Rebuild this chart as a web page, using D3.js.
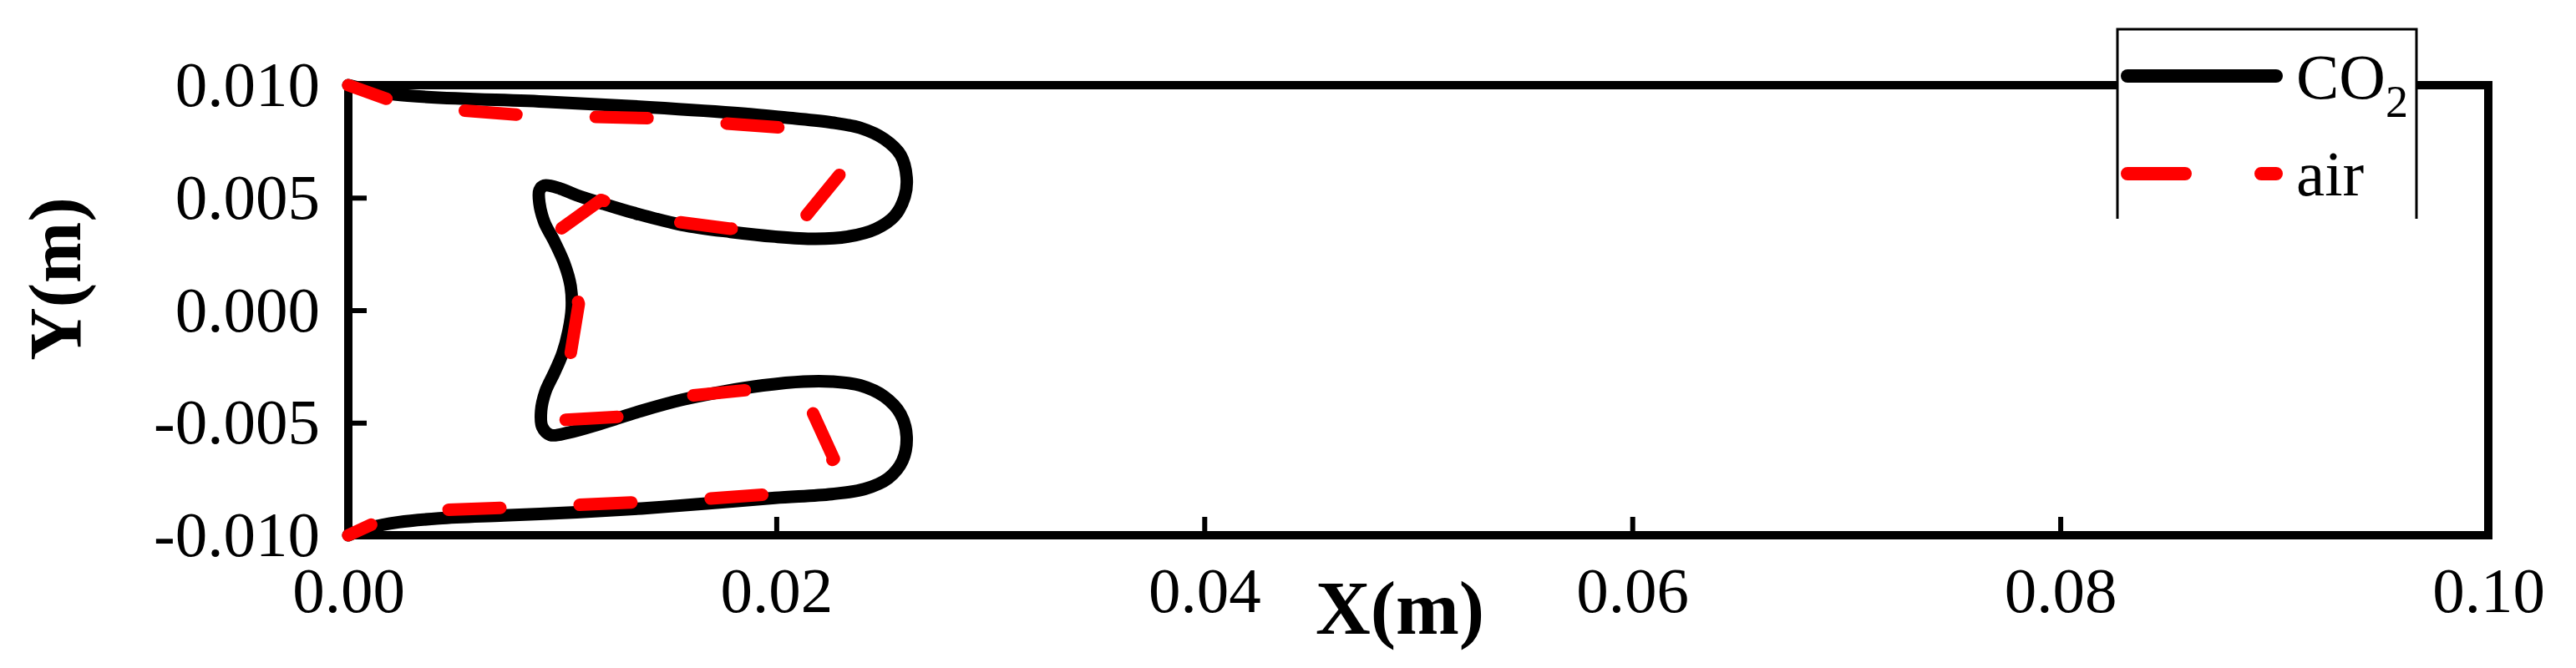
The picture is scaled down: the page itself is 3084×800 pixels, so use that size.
<!DOCTYPE html>
<html>
<head>
<meta charset="utf-8">
<script src="https://cdn.jsdelivr.net/npm/d3@7"></script>
<style>
  html, body { margin: 0; padding: 0; background: #fff; }
  svg { display: block; }
</style>
</head>
<body>
<svg id="chart" width="3084" height="800"></svg>
<script>
// ---- data (metres) ----
const co2X = [0.0000, 0.00216, 0.00935, 0.01408, 0.01843, 0.02051, 0.02259, 0.02392, 0.02505, 0.02581, 0.02609, 0.02600, 0.02553, 0.02467, 0.02335, 0.02184, 0.01994, 0.01786, 0.01559, 0.01332, 0.01181, 0.01067, 0.00991, 0.00916, 0.00893, 0.00893, 0.00916, 0.00963, 0.01010, 0.01039, 0.01044, 0.01029, 0.01001, 0.00963, 0.00921, 0.00901, 0.00906, 0.00944, 0.01029, 0.01181, 0.01370, 0.01559, 0.01748, 0.01938, 0.02127, 0.02259, 0.02392, 0.02505, 0.02581, 0.02609, 0.02590, 0.02524, 0.02411, 0.02259, 0.01994, 0.01673, 0.01370, 0.01067, 0.00727, 0.00424, 0.00235, 0.00102, 0.0000];
const co2Y = [0.0100, 0.00959, 0.00926, 0.00902, 0.00874, 0.00855, 0.00834, 0.00810, 0.00760, 0.00689, 0.00589, 0.00504, 0.00419, 0.00362, 0.00327, 0.00317, 0.00327, 0.00348, 0.00379, 0.00433, 0.00476, 0.00511, 0.00540, 0.00554, 0.00533, 0.00476, 0.00391, 0.00305, 0.00206, 0.00107, 0.00007, -0.00092, -0.00192, -0.00277, -0.00362, -0.00447, -0.00518, -0.00554, -0.00544, -0.00504, -0.00447, -0.00398, -0.00362, -0.00334, -0.00317, -0.00317, -0.00334, -0.00384, -0.00462, -0.00561, -0.00668, -0.00746, -0.00795, -0.00817, -0.00834, -0.00859, -0.00881, -0.00898, -0.00912, -0.00925, -0.00942, -0.00966, -0.0100];

const airX = [0.0000, 0.00206, 0.00528, 0.00831, 0.01455, 0.02042, 0.02297, 0.02108, 0.01786, 0.01493, 0.01181, 0.00973, 0.01077, 0.01033, 0.00969, 0.01275, 0.01550, 0.01862, 0.02136, 0.02269, 0.01985, 0.01673, 0.01058, 0.00424, 0.00159, 0.0000];
const airY = [0.0100, 0.00930, 0.00888, 0.00866, 0.00852, 0.00810, 0.00604, 0.00384, 0.00362, 0.00398, 0.00490, 0.00348, 0.00028, -0.00227, -0.00490, -0.00473, -0.00384, -0.00355, -0.00384, -0.00661, -0.00817, -0.00838, -0.00866, -0.00888, -0.00930, -0.0100];

const xTicks = [0, 0.02, 0.04, 0.06, 0.08, 0.10];
const yTicks = [-0.010, -0.005, 0.000, 0.005, 0.010];
const seriesNames = ["CO", "air"];

// ---- layout ----
const L = 417, R = 2979, T = 102, B = 641;
const FONT = "'Liberation Serif', 'Times New Roman', serif";

const svg = d3.select("#chart");
const x = d3.scaleLinear().domain([0, 0.1]).range([L, R]);
const y = d3.scaleLinear().domain([-0.01, 0.01]).range([B, T]);

const loc = d3.formatLocale({decimal: ".", thousands: ",", grouping: [3], currency: ["", ""], minus: "-"});

// frame
svg.append("rect")
  .attr("x", L).attr("y", T).attr("width", R - L).attr("height", B - T)
  .attr("fill", "none").attr("stroke", "#000").attr("stroke-width", 10);

// x axis
const gx = svg.append("g").attr("transform", `translate(0,${B})`)
  .call(d3.axisBottom(x).tickValues(xTicks).tickFormat(loc.format(".2f"))
    .tickSizeInner(-22).tickSizeOuter(0).tickPadding(0));
gx.select(".domain").remove();
gx.selectAll(".tick line").attr("stroke", "#000").attr("stroke-width", 6);
gx.selectAll(".tick text").attr("y", 92).attr("dy", null)
  .attr("font-family", FONT).attr("font-size", 77).attr("fill", "#000");

// y axis
const gy = svg.append("g").attr("transform", `translate(${L},0)`)
  .call(d3.axisLeft(y).tickValues(yTicks).tickFormat(loc.format(".3f"))
    .tickSizeInner(-22).tickSizeOuter(0).tickPadding(34));
gy.select(".domain").remove();
gy.selectAll(".tick line").attr("stroke", "#000").attr("stroke-width", 6);
gy.selectAll(".tick text").attr("dy", "0.32em")
  .attr("font-family", FONT).attr("font-size", 77).attr("fill", "#000");

// axis titles
svg.append("text").attr("x", 1676).attr("y", 759).attr("text-anchor", "middle")
  .attr("font-family", FONT).attr("font-weight", "bold").attr("font-size", 91)
  .text("X(m)");
svg.append("text").attr("transform", "translate(96,334) rotate(-90)")
  .attr("text-anchor", "middle")
  .attr("font-family", FONT).attr("font-weight", "bold").attr("font-size", 88)
  .text("Y(m)");

// curves
const co2Pts = co2X.map((v, i) => [v, co2Y[i]]);
const airPts = airX.map((v, i) => [v, airY[i]]);
const smooth = d3.line().x(d => x(d[0])).y(d => y(d[1])).curve(d3.curveCatmullRom.alpha(0.5));
const straight = d3.line().x(d => x(d[0])).y(d => y(d[1]));

svg.append("path").attr("d", smooth(co2Pts))
  .attr("fill", "none").attr("stroke", "#000").attr("stroke-width", 15)
  .attr("stroke-linejoin", "round").attr("stroke-linecap", "round");
svg.append("path").attr("d", straight(airPts))
  .attr("fill", "none").attr("stroke", "#ff0000").attr("stroke-width", 15)
  .attr("stroke-dasharray", "62,95").attr("stroke-dashoffset", 13.5)
  .attr("stroke-linejoin", "round").attr("stroke-linecap", "round");

// legend
const lg = svg.append("g");
lg.append("rect").attr("x", 2535).attr("y", 35).attr("width", 358).attr("height", 227)
  .attr("fill", "#fff");
lg.append("path").attr("d", "M2535,262V35H2893V262")
  .attr("fill", "none").attr("stroke", "#000").attr("stroke-width", 3);
lg.append("line").attr("x1", 2547).attr("x2", 2725).attr("y1", 91).attr("y2", 91)
  .attr("stroke", "#000").attr("stroke-width", 16).attr("stroke-linecap", "round");
lg.append("line").attr("x1", 2547).attr("x2", 2725).attr("y1", 208).attr("y2", 208)
  .attr("stroke", "#ff0000").attr("stroke-width", 16).attr("stroke-linecap", "round")
  .attr("stroke-dasharray", "69,91");
const t1 = lg.append("text").attr("x", 2749).attr("y", 118)
  .attr("font-family", FONT).attr("font-size", 77).attr("fill", "#000");
t1.append("tspan").text(seriesNames[0]);
t1.append("tspan").attr("font-size", 54).attr("dy", 22).text("2");
lg.append("text").attr("x", 2749).attr("y", 234)
  .attr("font-family", FONT).attr("font-size", 77).attr("fill", "#000")
  .text(seriesNames[1]);
</script>
</body>
</html>
